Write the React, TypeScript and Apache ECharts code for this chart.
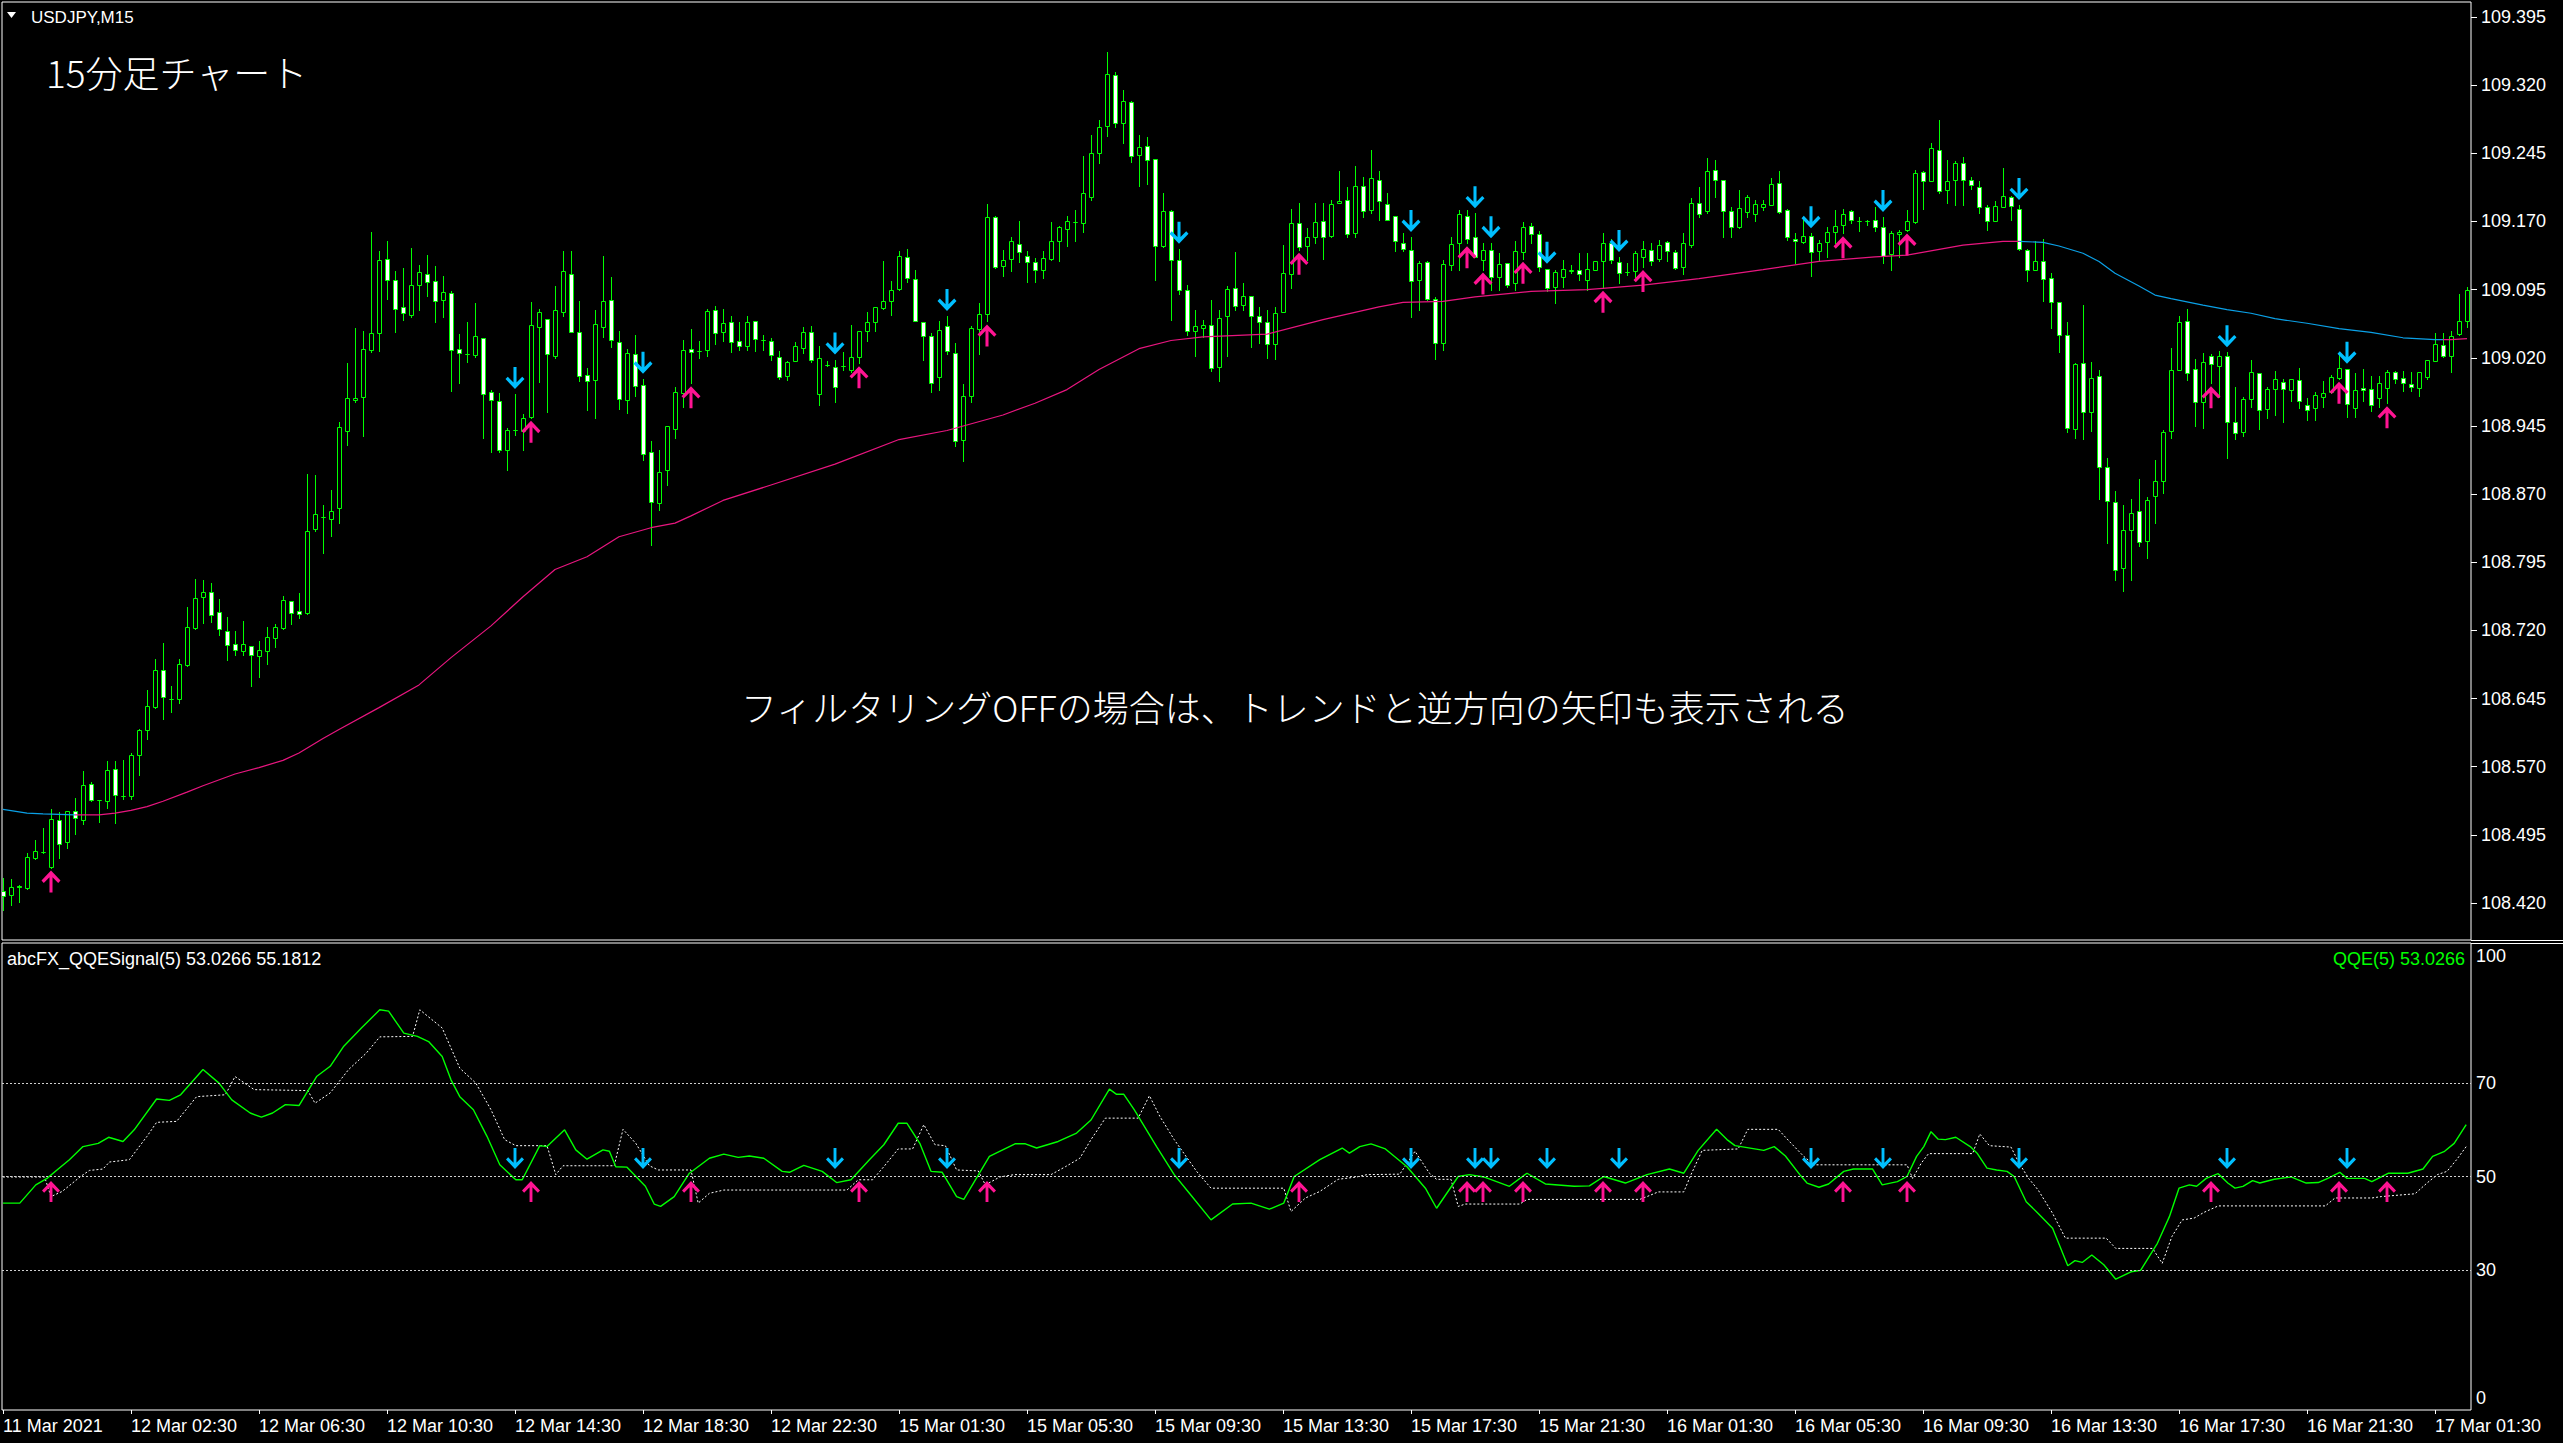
import React, { useEffect, useRef } from 'react';
import * as echarts from 'echarts';

// ---------- price data (USDJPY M15), one entry per bar ----------
const opens = [
  108.433,108.429,108.439,108.436,108.469,108.476,108.460,108.511,108.487,108.521,
  108.511,108.551,108.533,108.532,108.568,108.538,108.538,108.583,108.610,108.636,
  108.676,108.645,108.644,108.682,108.723,108.757,108.762,108.740,108.719,108.705,
  108.697,108.703,108.692,108.697,108.712,108.723,108.752,108.741,108.739,108.832,
  108.845,108.843,108.855,108.939,108.974,108.977,109.029,109.047,109.129,109.106,
  109.076,109.067,109.100,109.112,109.104,109.084,109.091,109.030,109.024,109.023,
  109.042,108.982,108.972,108.919,108.941,108.939,108.955,109.054,109.063,109.022,
  109.070,109.112,109.048,109.001,108.996,109.054,109.084,109.037,108.974,109.024,
  108.990,108.916,108.860,108.897,108.942,108.981,109.030,109.028,109.029,109.073,
  109.048,109.059,109.039,109.033,109.060,109.040,109.038,109.021,109.000,109.016,
  109.031,109.048,108.980,109.012,109.010,109.011,109.007,109.021,109.050,109.059,
  109.075,109.083,109.096,109.131,109.107,109.059,109.044,108.999,109.055,109.025,
  108.930,108.978,109.052,109.068,109.175,109.121,109.129,109.145,109.132,109.125,
  109.117,109.129,109.149,109.162,109.169,109.168,109.197,109.245,109.275,109.331,
  109.278,109.302,109.243,109.253,109.239,109.143,109.181,109.128,109.095,109.050,
  109.053,109.056,109.010,109.066,109.097,109.078,109.088,109.066,109.059,109.035,
  109.070,109.112,109.168,109.143,109.153,109.171,109.154,109.190,109.194,109.157,
  109.209,109.183,109.216,109.189,109.176,109.146,109.139,109.106,109.125,109.085,
  109.036,109.122,109.146,109.176,109.153,109.128,109.139,109.109,109.124,109.102,
  109.136,109.165,109.156,109.118,109.098,109.109,109.116,109.117,109.106,109.117,
  109.126,109.146,109.125,109.114,109.115,109.131,109.139,109.129,109.147,109.136,
  109.120,109.144,109.190,109.181,109.227,109.216,109.181,109.164,109.180,109.178,
  109.186,109.188,109.212,109.183,109.151,109.147,109.154,109.138,109.147,109.158,
  109.166,109.182,109.171,109.170,109.172,109.164,109.134,109.156,109.161,109.169,
  109.224,109.214,109.249,109.205,109.216,109.234,109.216,109.208,109.186,109.171,
  109.186,109.197,109.184,109.139,109.117,109.127,109.108,109.081,109.045,108.942,
  109.014,108.960,109.000,108.900,108.861,108.789,108.830,108.851,108.818,108.868,
  108.884,108.939,109.007,109.060,109.008,108.971,109.022,109.011,109.022,108.949,
  108.938,108.975,109.003,108.964,108.986,108.993,108.985,108.996,108.968,108.965,
  108.977,108.982,108.998,109.008,108.965,108.987,108.986,108.976,108.987,109.004,
  108.998,108.991,108.987,108.999,109.016,109.034,109.022,109.046,109.060,
];
const highs = [
  108.447,108.446,108.440,108.475,108.489,108.503,108.523,108.520,108.521,108.536,
  108.565,108.553,108.533,108.576,108.576,108.577,108.585,108.612,108.654,108.689,
  108.706,108.659,108.688,108.746,108.777,108.775,108.772,108.754,108.735,108.719,
  108.730,108.703,108.708,108.724,108.727,108.758,108.752,108.761,108.892,108.891,
  108.858,108.874,108.949,109.014,109.053,109.049,109.158,109.137,109.148,109.115,
  109.119,109.141,109.122,109.133,109.121,109.110,109.093,109.046,109.059,109.080,
  109.042,108.985,108.981,108.943,108.980,108.958,109.081,109.074,109.063,109.099,
  109.137,109.137,109.082,109.009,109.073,109.132,109.109,109.049,109.030,109.045,
  108.997,108.928,108.918,108.945,108.988,109.040,109.052,109.038,109.074,109.077,
  109.074,109.066,109.059,109.066,109.060,109.045,109.042,109.027,109.016,109.037,
  109.054,109.055,109.033,109.016,109.018,109.026,109.056,109.049,109.070,109.076,
  109.126,109.104,109.138,109.140,109.117,109.059,109.047,109.060,109.066,109.036,
  108.991,109.055,109.080,109.189,109.176,109.139,109.153,109.170,109.137,109.130,
  109.137,109.169,109.165,109.176,109.183,109.242,109.265,109.282,109.356,109.334,
  109.315,109.303,109.265,109.263,109.239,109.201,109.183,109.140,109.100,109.073,
  109.062,109.084,109.073,109.099,109.136,109.102,109.088,109.076,109.073,109.076,
  109.144,109.184,109.190,109.163,109.190,109.190,109.194,109.225,109.208,109.231,
  109.219,109.249,109.225,109.201,109.176,109.157,109.153,109.126,109.126,109.087,
  109.128,109.153,109.183,109.183,109.179,109.146,109.146,109.135,109.124,109.148,
  109.169,109.168,109.160,109.118,109.117,109.128,109.122,109.135,109.135,109.126,
  109.157,109.151,109.131,109.124,109.137,109.148,109.146,109.150,109.148,109.139,
  109.157,109.196,109.208,109.240,109.238,109.216,109.186,109.205,109.199,109.194,
  109.194,109.218,109.225,109.184,109.157,109.172,109.157,109.150,109.164,109.183,
  109.184,109.183,109.175,109.172,109.186,109.175,109.159,109.161,109.183,109.227,
  109.225,109.256,109.282,109.238,109.236,109.241,109.219,109.214,109.188,109.192,
  109.229,109.198,109.188,109.140,109.148,109.151,109.113,109.081,109.059,109.014,
  109.078,109.015,109.007,108.910,108.873,108.858,108.865,108.887,108.867,108.908,
  108.941,109.031,109.066,109.074,109.019,109.025,109.024,109.027,109.026,108.988,
  108.977,109.018,109.003,108.988,109.005,108.997,108.997,109.009,108.976,108.982,
  108.994,109.001,109.025,109.008,109.003,109.008,109.000,109.000,109.007,109.005,
  109.005,109.004,109.004,109.018,109.047,109.047,109.049,109.090,109.098,
];
const lows = [
  108.412,108.418,108.421,108.435,108.468,108.475,108.459,108.470,108.481,108.496,
  108.507,108.532,108.509,108.525,108.508,108.534,108.534,108.561,108.600,108.635,
  108.622,108.630,108.640,108.681,108.722,108.728,108.729,108.715,108.687,108.693,
  108.693,108.659,108.669,108.683,108.702,108.721,108.727,108.734,108.738,108.829,
  108.805,108.824,108.838,108.924,108.971,108.934,109.026,109.028,109.085,109.048,
  109.062,109.065,109.073,109.088,109.059,109.065,108.983,108.992,109.015,109.021,
  108.932,108.916,108.916,108.897,108.935,108.918,108.954,108.993,108.960,109.020,
  109.066,109.048,108.994,108.963,108.954,109.043,109.032,108.964,108.959,108.978,
  108.908,108.814,108.852,108.880,108.932,108.966,108.992,109.020,109.022,109.035,
  109.039,109.026,109.029,109.029,109.027,109.029,109.018,108.997,108.996,109.016,
  109.025,109.015,108.968,109.011,108.971,109.007,109.004,109.014,109.038,109.049,
  109.074,109.067,109.095,109.103,109.060,109.018,108.982,108.985,109.024,108.923,
  108.906,108.971,109.024,109.060,109.119,109.110,109.116,109.125,109.103,109.103,
  109.108,109.128,109.127,109.143,109.148,109.158,109.194,109.234,109.264,109.274,
  109.256,109.235,109.209,109.211,109.106,109.142,109.062,109.090,109.045,109.022,
  109.043,109.005,108.994,109.022,109.073,109.073,109.032,109.036,109.020,109.019,
  109.070,109.097,109.139,109.128,109.146,109.129,109.153,109.190,109.153,109.153,
  109.175,109.179,109.172,109.172,109.137,109.137,109.065,109.073,109.084,109.019,
  109.029,109.117,109.117,109.146,109.131,109.117,109.095,109.095,109.098,109.095,
  109.129,109.146,109.116,109.093,109.080,109.098,109.113,109.106,109.095,109.117,
  109.097,109.124,109.102,109.111,109.109,109.120,109.122,109.126,109.126,109.118,
  109.112,109.142,109.175,109.179,109.197,109.153,109.153,109.163,109.175,109.171,
  109.183,109.188,109.179,109.150,109.124,109.146,109.110,109.128,109.131,109.146,
  109.157,109.168,109.159,109.166,109.159,109.124,109.117,109.131,109.160,109.168,
  109.184,109.214,109.201,109.190,109.188,109.188,109.206,109.179,109.161,109.170,
  109.186,109.172,109.139,109.104,109.117,109.082,109.053,109.026,108.938,108.932,
  108.931,108.939,108.865,108.816,108.775,108.763,108.775,108.813,108.800,108.838,
  108.871,108.932,109.006,108.995,108.945,108.943,108.992,108.977,108.910,108.931,
  108.934,108.966,108.942,108.954,108.957,108.949,108.972,108.965,108.951,108.952,
  108.966,108.981,108.997,108.955,108.955,108.972,108.961,108.966,108.970,108.992,
  108.983,108.983,108.978,108.997,109.016,109.021,109.004,109.045,109.054,
];
const closes = [
  108.428,108.438,108.438,108.471,108.477,108.476,108.513,108.485,108.521,108.514,
  108.550,108.533,108.533,108.566,108.539,108.538,108.583,108.610,108.637,108.676,
  108.647,108.645,108.683,108.724,108.756,108.762,108.737,108.722,108.704,108.698,
  108.705,108.693,108.698,108.713,108.724,108.753,108.739,108.738,108.829,108.848,
  108.845,108.851,108.944,108.976,108.976,109.030,109.047,109.128,109.106,109.074,
  109.069,109.100,109.114,109.103,109.082,109.092,109.029,109.025,109.024,109.044,
  108.980,108.973,108.918,108.941,108.941,108.954,109.056,109.070,109.024,109.073,
  109.115,109.048,109.000,108.994,109.057,109.082,109.040,108.975,109.025,108.989,
  108.914,108.861,108.894,108.945,108.982,109.029,109.026,109.028,109.071,109.047,
  109.058,109.037,109.033,109.059,109.041,109.040,109.023,108.999,109.015,109.033,
  109.048,109.018,109.020,109.012,108.988,109.011,109.021,109.049,109.059,109.076,
  109.082,109.095,109.132,109.108,109.060,109.044,108.992,109.051,109.027,108.928,
  108.978,109.053,109.068,109.175,109.120,109.128,109.148,109.136,109.125,109.117,
  109.130,109.149,109.164,109.170,109.169,109.201,109.245,109.274,109.332,109.278,
  109.303,109.242,109.252,109.238,109.143,109.182,109.128,109.095,109.050,109.055,
  109.056,109.009,109.064,109.096,109.077,109.088,109.066,109.059,109.035,109.069,
  109.113,109.168,109.142,109.153,109.169,109.153,109.189,109.193,109.156,109.209,
  109.182,109.218,109.192,109.172,109.148,109.140,109.105,109.124,109.085,109.036,
  109.123,109.145,109.178,109.151,109.131,109.139,109.109,109.123,109.100,109.137,
  109.164,109.156,109.120,109.097,109.114,109.118,109.117,109.112,109.118,109.126,
  109.146,109.128,109.113,109.114,109.135,109.140,109.127,109.144,109.137,109.119,
  109.146,109.190,109.178,109.225,109.216,109.181,109.164,109.185,109.197,109.189,
  109.189,109.211,109.180,109.153,109.148,109.154,109.136,109.146,109.158,109.165,
  109.178,109.172,109.170,109.171,109.164,109.132,109.157,109.158,109.170,109.223,
  109.214,109.251,109.203,109.215,109.234,109.216,109.210,109.186,109.171,109.187,
  109.198,109.187,109.140,109.117,109.126,109.107,109.081,109.045,108.943,109.013,
  108.960,108.998,108.900,108.862,108.786,108.830,108.849,108.817,108.863,108.884,
  108.938,109.007,109.059,109.003,108.971,109.015,109.013,109.022,108.949,108.937,
  108.975,109.004,108.963,108.986,108.997,108.986,108.997,108.972,108.963,108.979,
  108.981,108.999,109.009,108.969,108.984,108.985,108.968,108.992,109.004,108.997,
  108.992,108.988,109.004,109.017,109.035,109.022,109.044,109.061,109.095,
];

// ---------- moving average (read at selected bars) ----------
const maBars = [0,3,5,9,12,14,16,18,20,23,25,29,32,35,37,40,42,47,52,56,61,65,69,73,77,81,84,86,90,96,104,112,118,125,129,133,137,142,146,150,158,165,172,175,180,184,191,198,205,212,220,227,234,238,245,250,252,255,257,260,262,264,267,269,271,275,278,281,284,288,292,296,300,304,306,308];
const maValues = [108.523,108.519,108.518,108.517,108.517,108.519,108.522,108.526,108.532,108.542,108.549,108.562,108.569,108.577,108.585,108.601,108.611,108.635,108.660,108.690,108.725,108.757,108.787,108.801,108.823,108.833,108.838,108.846,108.863,108.880,108.903,108.930,108.940,108.957,108.970,108.985,109.007,109.030,109.039,109.043,109.046,109.062,109.076,109.081,109.082,109.087,109.093,109.095,109.100,109.107,109.117,109.126,109.131,109.133,109.144,109.148,109.148,109.147,109.143,109.135,109.126,109.113,109.099,109.089,109.085,109.078,109.073,109.069,109.063,109.058,109.052,109.048,109.042,109.040,109.040,109.041];
const maFallingRanges: [number, number][] = [[-1, 9], [252, 305]];

// ---------- signal arrows ----------
const upArrowBars = [6, 66, 86, 107, 123, 162, 183, 185, 190, 200, 205, 230, 238, 276, 292, 298];
const downArrowBars = [64, 80, 104, 118, 147, 176, 184, 186, 193, 202, 226, 235, 252, 278, 293];

// ---------- QQE indicator ----------
const qqeMain: [number, number][] = [
  [0,44.3],[2.1,44.3],[4.1,48.2],[5.5,49.6],[6.9,51.6],[8.3,53.6],[10,56.4],[11.9,57.1],[13.2,58.4],[15,57.5],
  [16.4,60.0],[19.2,66.6],[20.8,66.3],[22.2,67.5],[25,72.9],[27,70.0],[28.6,66.4],[30.9,63.6],[32.3,62.7],[33.7,63.6],
  [35.3,65.4],[37,65.2],[39.2,71.4],[40.9,73.6],[42.6,77.9],[44.8,81.8],[47.1,85.7],[48.2,85.4],[50.1,80.7],[51.8,80.0],
  [53.2,78.9],[54.9,75.7],[56,70.7],[57.1,67.1],[58.8,64.3],[60.5,58.6],[62.1,52.5],[64.1,49.3],[64.9,49.3],[67.1,56.6],
  [68,56.4],[70.2,60.0],[71.6,55.7],[73,53.7],[75,55.7],[75.8,55.4],[76.6,52.1],[78,52.0],[80.3,47.9],[81.4,44.1],
  [82.2,43.6],[83.9,45.7],[85.8,50.7],[88.3,53.9],[90.1,54.8],[91.9,54.1],[93.3,54.4],[95.1,53.9],[97.4,51.1],[98.3,50.9],
  [100.1,52.4],[102.4,51.1],[104.2,48.7],[106,49.3],[108.3,53.6],[110.1,56.8],[111.9,61.4],[113,61.4],[114.6,57.1],[116,51.1],
  [117.4,50.9],[119.2,45.7],[120.1,45.1],[123.3,54.3],[126.5,57.0],[127.8,57.0],[129.2,56.1],[131.9,57.5],[134.2,59.3],[136,62.1],
  [138.3,68.7],[139.2,67.6],[140.1,67.6],[141.4,64.3],[144.2,56.4],[146.4,50.4],[148.3,46.4],[151,40.7],[153.7,44.1],[156,44.3],
  [158.3,43.0],[160.1,44.3],[161.4,50.0],[164.6,53.6],[167.4,56.1],[168.3,55.0],[169.6,56.4],[171,57.0],[172.8,55.9],[175.5,52.1],
  [177.8,47.5],[179.2,43.2],[181.9,50.0],[183.3,50.4],[185.1,49.9],[188.3,47.9],[190.5,50.7],[192.8,48.4],[196.4,47.9],[198.3,48.0],
  [200.1,50.0],[202.8,48.6],[205.5,50.4],[208.3,51.6],[210.1,50.7],[211.9,55.6],[214.2,60.1],[215.5,57.9],[216.5,56.6],[220.1,55.6],
  [221.4,56.4],[222.8,54.4],[224.6,50.4],[225.5,48.6],[227,47.7],[228.2,48.4],[230.1,51.1],[231.3,51.6],[233.7,51.6],[234.9,48.2],
  [236.8,48.9],[238,50.0],[239.2,54.3],[240.1,56.4],[241,59.6],[241.9,58.0],[242.8,57.9],[244.1,58.4],[245.9,56.4],[246.8,54.9],
  [248,51.8],[249.2,51.4],[250.5,51.1],[251.4,50.0],[252.9,44.6],[254.4,42.1],[256.2,38.9],[258.1,30.9],[259,32.0],[259.9,31.6],
  [261.1,33.2],[262.6,31.1],[264.1,28.0],[266,29.6],[267.2,29.9],[269.3,35.7],[270.8,41.4],[272,47.5],[273.3,48.2],[274.2,47.9],
  [275.4,49.6],[276.9,50.6],[278.1,48.6],[279,47.5],[280,47.9],[281.2,49.1],[282.1,48.6],[283.9,49.4],[286,49.9],[287.9,48.6],
  [289.4,48.7],[290.6,49.6],[292.1,50.9],[293,49.6],[295.2,49.6],[296.1,48.9],[298.2,50.7],[300.6,50.7],[302.5,51.6],[303.7,54.3],
  [305.2,55.4],[306.4,57.1],[307.9,61.1],
];
const qqeSignal: [number, number][] = [
  [0,49.9],[5.2,49.9],[6.0,45.7],[7.4,46.8],[9.7,50.0],[10.8,51.3],[12.5,51.6],[13.3,53.1],[15.8,53.6],[18,58.6],
  [19.2,61.6],[21.7,61.8],[24.2,67.1],[27.8,67.5],[29,71.4],[31.4,68.6],[38.1,68.4],[39,65.7],[40.9,67.9],[43.2,72.9],
  [45.4,76.4],[47.1,79.9],[51.2,80.0],[52.1,85.7],[54.9,81.8],[57.1,73.2],[59.1,70.0],[61,64.3],[62.7,57.9],[64.1,56.6],
  [68,56.6],[69.1,50.4],[70,52.3],[76.4,52.3],[77.5,60.1],[79.1,57.1],[80.8,52.3],[81.9,51.4],[86,51.4],[86.9,44.3],
  [88.3,46.4],[90.1,47.1],[105.5,47.1],[106.9,49.3],[108.7,49.3],[110.1,52.1],[111.9,55.9],[113.7,55.9],[115.1,61.1],[116.5,56.8],
  [117.8,56.6],[119.2,51.4],[121.9,51.2],[122.8,48.2],[124.6,49.9],[126.4,50.4],[131,50.4],[132.8,52.1],[134.6,53.9],[136,57.9],
  [137.8,62.5],[141.9,62.5],[143.3,67.3],[144.6,62.9],[146.4,57.9],[149.2,51.1],[151,47.5],[160.1,47.5],[161,42.5],[162.8,45.4],
  [164.6,46.8],[166.9,49.4],[169.2,49.9],[170.5,50.4],[174.6,50.5],[176.5,55.4],[178.3,50.7],[179.2,49.4],[181,49.4],[181.9,43.6],
  [182.8,44.1],[189.6,44.1],[190.5,45.1],[204.6,45.1],[205.5,45.7],[206.9,46.7],[210.1,46.7],[211,50.4],[212.4,55.6],[216.9,55.9],
  [218.1,60.1],[221.9,60.1],[223.3,57.5],[225.1,54.3],[226.4,52.5],[238,52.5],[238.7,49.6],[239.8,52.9],[240.7,54.9],[246.2,54.9],
  [247.1,59.1],[248.3,56.6],[251,56.3],[252,52.9],[253.2,49.6],[254.4,47.1],[256.2,42.1],[257.8,36.8],[262.9,36.8],[264.1,34.6],
  [268.7,34.6],[269.9,31.4],[271.1,37.1],[272.4,40.7],[273.9,41.1],[275.1,42.3],[276.9,43.7],[290.3,43.7],[291.5,45.4],[296.1,45.4],
  [297.3,45.7],[301.5,46.3],[303,48.6],[304.3,50.4],[305.5,51.1],[306.7,53.6],[307.9,56.4],
];
const qqeLevels = [70, 50, 30];
const qqeArrowLevel = 50;

// ---------- axis tick labels ----------
const priceTicks = [108.420,108.495,108.570,108.645,108.720,108.795,108.870,108.945,109.020,109.095,109.170,109.245,109.320,109.395];
const qqeTicks = [0, 30, 50, 70, 100];
const timeTickBars = [0,16,32,48,64,80,96,112,128,144,160,176,192,208,224,240,256,272,288,304];
const timeLabels = [
  '11 Mar 2021','12 Mar 02:30','12 Mar 06:30','12 Mar 10:30','12 Mar 14:30','12 Mar 18:30','12 Mar 22:30',
  '15 Mar 01:30','15 Mar 05:30','15 Mar 09:30','15 Mar 13:30','15 Mar 17:30','15 Mar 21:30',
  '16 Mar 01:30','16 Mar 05:30','16 Mar 09:30','16 Mar 13:30','16 Mar 17:30','16 Mar 21:30','17 Mar 01:30',
];

const W = 2563;
const H = 1443;
const FONT = '"Liberation Sans", Arial, sans-serif';
const JP = '"Noto Sans CJK JP", sans-serif';
const GREEN = '#00ff00';
const PINK = '#ff1493';
const BLUE = '#00bfff';
const MA_PINK = '#e8157f';
const MA_BLUE = '#0aa0e6';

const UP_ARROW = 'path://M10 0 L20 10 L17.6 12.4 L11.6 6.6 L11.6 22 L8.4 22 L8.4 6.6 L2.4 12.4 L0 10 Z';
const DOWN_ARROW = 'path://M10 22 L20 12 L17.6 9.6 L11.6 15.4 L11.6 0 L8.4 0 L8.4 15.4 L2.4 9.6 L0 12 Z';

export default function App() {
  const ref = useRef<HTMLDivElement>(null);

  useEffect(() => {
    if (!ref.current) return;
    const chart = echarts.init(ref.current, null, { renderer: 'svg' });

    const xMin = -0.125;
    const xMax = 308.5;
    const candleData = opens.map((o, i) => [i, o, highs[i], lows[i], closes[i]]);
    const maData = maBars.map((b, k) => [b, maValues[k]]);

    const maPieces: any[] = [];
    let prev = -1;
    maFallingRanges.forEach(([a, b]) => {
      if (a > prev) maPieces.push({ gte: prev, lt: a, color: MA_PINK });
      maPieces.push({ gte: a, lt: b, color: MA_BLUE });
      prev = b;
    });
    maPieces.push({ gte: prev, lte: 400, color: MA_PINK });

    const labelIndex: Record<number, string> = {};
    timeTickBars.forEach((b, k) => { labelIndex[b] = timeLabels[k]; });

    const option: any = {
      animation: false,
      backgroundColor: '#000000',
      grid: [
        { left: 2, top: 2, width: 2469, height: 938, show: true, borderColor: '#ffffff', borderWidth: 1, backgroundColor: 'transparent' },
        { left: 2, top: 943, width: 2469, height: 467, show: true, borderColor: '#ffffff', borderWidth: 1, backgroundColor: 'transparent' },
      ],
      xAxis: [
        { type: 'value', gridIndex: 0, min: xMin, max: xMax, show: false, axisLine: { onZero: false } },
        {
          type: 'value', gridIndex: 1, min: xMin, max: xMax,
          axisLine: { show: false, onZero: false },
          splitLine: { show: false },
          axisTick: { show: true, customValues: timeTickBars, length: 4, lineStyle: { color: '#ffffff' } },
          axisLabel: {
            customValues: timeTickBars,
            formatter: (v: number) => labelIndex[Math.round(v)] || '',
            align: 'left', color: '#ffffff', fontSize: 18, fontFamily: FONT, margin: 7,
          },
        },
      ],
      yAxis: [
        {
          type: 'value', gridIndex: 0, position: 'right', min: 108.3793, max: 109.4115,
          axisLine: { show: false, onZero: false }, splitLine: { show: false },
          axisTick: { show: true, customValues: priceTicks, length: 6, lineStyle: { color: '#ffffff' } },
          axisLabel: {
            customValues: priceTicks, formatter: (v: number) => v.toFixed(3),
            color: '#ffffff', fontSize: 18, fontFamily: FONT, margin: 10,
          },
        },
        {
          type: 'value', gridIndex: 1, position: 'right', min: 0, max: 100,
          axisLine: { show: false, onZero: false }, splitLine: { show: false },
          axisTick: { show: false },
          axisLabel: {
            customValues: qqeTicks,
            formatter: (v: number) => (v === 100 ? '{lo|100}' : v === 0 ? '{hi|0}' : '{n|' + v + '}'),
            margin: 5,
            rich: {
              n: { color: '#ffffff', fontSize: 18, fontFamily: FONT },
              lo: { color: '#ffffff', fontSize: 18, fontFamily: FONT, padding: [26, 0, 0, 0] },
              hi: { color: '#ffffff', fontSize: 18, fontFamily: FONT, padding: [0, 0, 24, 0] },
            },
          },
        },
      ],
      visualMap: [
        { type: 'piecewise', show: false, seriesIndex: 1, dimension: 0, pieces: maPieces },
      ],
      series: [
        {
          type: 'custom', name: 'candles', xAxisIndex: 0, yAxisIndex: 0, clip: true,
          data: candleData, encode: { x: 0, y: [1, 2, 3, 4] },
          renderItem: (_p: any, api: any) => {
            const i = api.value(0), o = api.value(1), h = api.value(2), l = api.value(3), c = api.value(4);
            const po = api.coord([i, o]);
            const pc = api.coord([i, c]);
            const ph = api.coord([i, h]);
            const pl = api.coord([i, l]);
            const x = Math.round(po[0]) + 0.5;
            const yt = Math.round(Math.min(po[1], pc[1])) + 0.5;
            const yb = Math.round(Math.max(po[1], pc[1])) + 0.5;
            return {
              type: 'group',
              children: [
                { type: 'line', shape: { x1: x, y1: Math.round(ph[1]), x2: x, y2: Math.round(pl[1]) + 1 }, style: { stroke: GREEN, lineWidth: 1 } },
                { type: 'rect', shape: { x: x - 2, y: yt, width: 4, height: Math.max(yb - yt, 0) }, style: { fill: c < o ? '#ffffff' : '#000000', stroke: GREEN, lineWidth: 1 } },
              ],
            };
          },
        },
        {
          type: 'line', name: 'MA', xAxisIndex: 0, yAxisIndex: 0, data: maData,
          showSymbol: false, symbol: 'none', lineStyle: { width: 1.2 }, z: 3,
        },
        {
          type: 'scatter', name: 'buy', xAxisIndex: 0, yAxisIndex: 0,
          data: upArrowBars.map((b) => [b, lows[b]]),
          symbol: UP_ARROW, symbolSize: [19, 22], symbolOffset: [0, 14],
          itemStyle: { color: PINK, opacity: 1 }, z: 5,
        },
        {
          type: 'scatter', name: 'sell', xAxisIndex: 0, yAxisIndex: 0,
          data: downArrowBars.map((b) => [b, highs[b]]),
          symbol: DOWN_ARROW, symbolSize: [19, 22], symbolOffset: [0, -16],
          itemStyle: { color: BLUE, opacity: 1 }, z: 5,
        },
        {
          type: 'line', name: 'QQE signal', xAxisIndex: 1, yAxisIndex: 1, data: qqeSignal,
          showSymbol: false, symbol: 'none',
          lineStyle: { color: '#ffffff', width: 1, type: [2, 2] },
          markLine: {
            silent: true, symbol: ['none', 'none'], label: { show: false },
            lineStyle: { color: '#d0d0d0', width: 1, type: [2, 2] },
            data: qqeLevels.map((v) => ({ yAxis: v })),
          },
          z: 2,
        },
        {
          type: 'line', name: 'QQE', xAxisIndex: 1, yAxisIndex: 1, data: qqeMain,
          showSymbol: false, symbol: 'none', lineStyle: { color: GREEN, width: 1.4 }, z: 3,
        },
        {
          type: 'scatter', name: 'qqe buy', xAxisIndex: 1, yAxisIndex: 1,
          data: upArrowBars.map((b) => [b, qqeArrowLevel]),
          symbol: UP_ARROW, symbolSize: [18, 21], symbolOffset: [0, 15],
          itemStyle: { color: PINK, opacity: 1 }, z: 5,
        },
        {
          type: 'scatter', name: 'qqe sell', xAxisIndex: 1, yAxisIndex: 1,
          data: downArrowBars.map((b) => [b, qqeArrowLevel]),
          symbol: DOWN_ARROW, symbolSize: [18, 21], symbolOffset: [0, -18],
          itemStyle: { color: BLUE, opacity: 1 }, z: 5,
        },
      ],
      graphic: [
        { type: 'polygon', shape: { points: [[7, 12], [16, 12], [11.5, 18]] }, style: { fill: '#ffffff' } },
        { type: 'text', x: 31, y: 17, style: { text: 'USDJPY,M15', fill: '#ffffff', font: '17px ' + FONT, textVerticalAlign: 'middle' } },
        { type: 'text', x: 46, y: 72, style: { text: '15分足チャート', fill: '#ffffff', font: '300 37px ' + JP, textVerticalAlign: 'middle' } },
        { type: 'text', x: 741, y: 706, style: { text: 'フィルタリングOFFの場合は、トレンドと逆方向の矢印も表示される', fill: '#ffffff', font: '300 36px ' + JP, textVerticalAlign: 'middle' } },
        { type: 'text', x: 7, y: 959, style: { text: 'abcFX_QQESignal(5) 53.0266 55.1812', fill: '#ffffff', font: '18px ' + FONT, textVerticalAlign: 'middle' } },
        { type: 'text', x: 2465, y: 959, style: { text: 'QQE(5) 53.0266', fill: GREEN, font: '18px ' + FONT, textAlign: 'right', textVerticalAlign: 'middle' } },
        { type: 'line', shape: { x1: 2471, y1: 940.5, x2: W, y2: 940.5 }, style: { stroke: '#ffffff', lineWidth: 1 } },
        { type: 'line', shape: { x1: 2471, y1: 943.5, x2: W, y2: 943.5 }, style: { stroke: '#ffffff', lineWidth: 1 } },
      ],
    };

    chart.setOption(option);
    return () => chart.dispose();
  }, []);

  return <div ref={ref} style={{ position: 'fixed', left: 0, top: 0, width: W, height: H, background: '#000' }} />;
}
